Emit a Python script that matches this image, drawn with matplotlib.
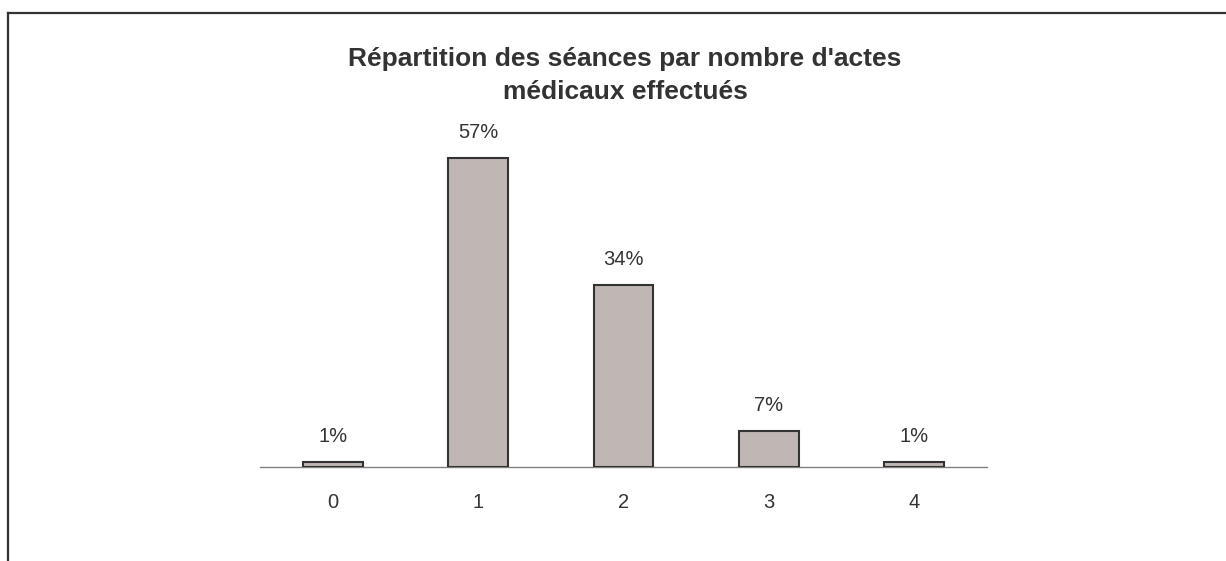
import matplotlib
matplotlib.use("Agg")
import matplotlib.pyplot as plt
from matplotlib.lines import Line2D

categories = ["0", "1", "2", "3", "4"]
values = [0.9, 57.0, 33.6, 6.6, 0.9]
labels = ["1%", "57%", "34%", "7%", "1%"]
title = "Répartition des séances par nombre d'actes\nmédicaux effectués"

plt.rcParams['font.family'] = ['Liberation Sans', 'DejaVu Sans']
W, H = 1226, 561
fig = plt.figure(figsize=(W / 100, H / 100), dpi=100)
ax = fig.add_axes([260 / W, (H - 467) / H, 727 / W, 325 / H])

x = list(range(len(categories)))
ax.bar(x, values, width=0.41, color="#c0b6b3", edgecolor="#333333", linewidth=1.5, zorder=2)
for xi, v, lab in zip(x, values, labels):
    ax.annotate(lab, (xi, v), xytext=(0, 11.5), textcoords="offset points",
                ha="center", va="bottom", fontsize=14.5, color="#333333")

ax.set_xlim(-0.5, 4.5)
ax.set_ylim(0, 60)
ax.set_xticks(x)
ax.set_xticklabels(categories, fontsize=14.5, color="#333333")
ax.tick_params(axis="x", length=0, pad=18.5)
ax.set_yticks([])
for s in ["top", "right", "left"]:
    ax.spines[s].set_visible(False)
ax.spines["bottom"].set_color("#808080")
ax.spines["bottom"].set_linewidth(1.0)
ax.spines["bottom"].set_zorder(1)

fig.text(625 / W, 1 - 75.5 / H, title, ha="center", va="center", fontsize=19,
         fontweight="bold", color="#333333", linespacing=1.45)

# frame lines (partial border as in reference)
fig.add_artist(Line2D([8 / W, 1.0], [1 - 12.5 / H, 1 - 12.5 / H], color="#333333", lw=1.6))
fig.add_artist(Line2D([8 / W, 8 / W], [0.0, 1 - 12.5 / H], color="#333333", lw=1.6))

fig.savefig("out.png", dpi=100)
